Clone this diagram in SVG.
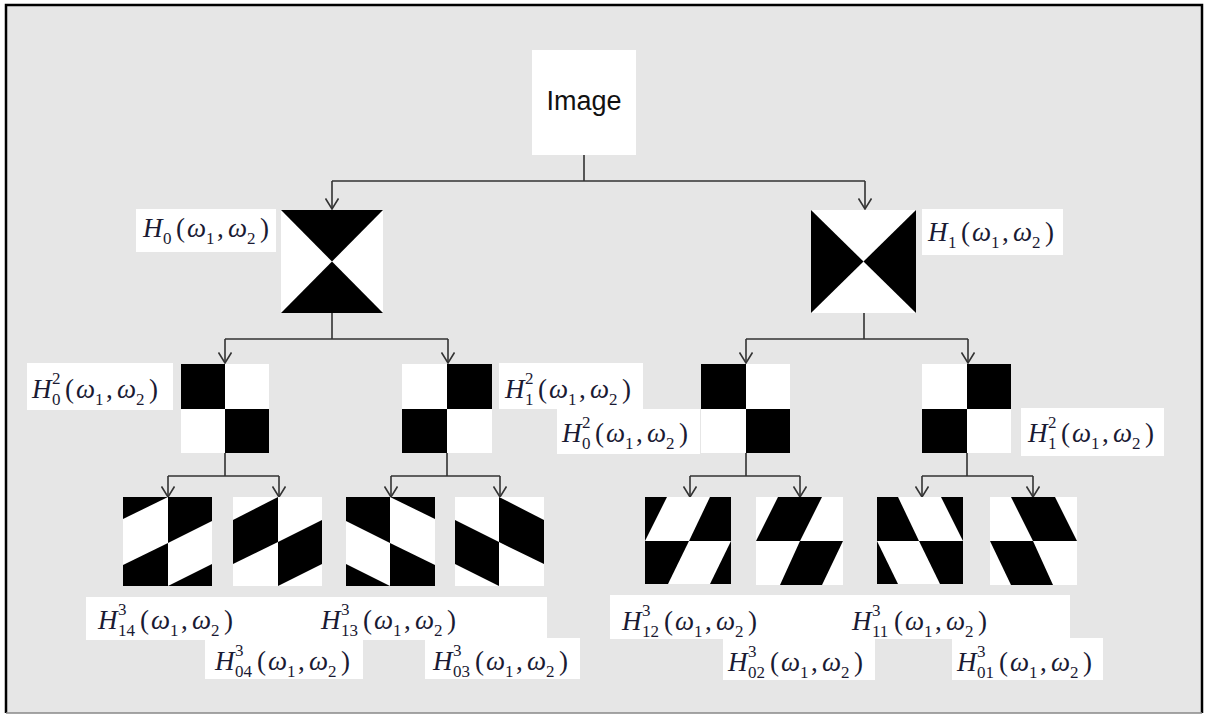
<svg xmlns="http://www.w3.org/2000/svg" width="1207" height="715" viewBox="0 0 1207 715">
<style>
.bg{fill:#e6e6e6}
.w{fill:#ffffff}
.k{fill:#000000}
.c{stroke:#333333;stroke-width:1.6;fill:none}
.m{font-family:"Liberation Serif","Times New Roman",serif;font-size:27px;fill:#1a1a33}
.i{font-style:italic}
.s{font-size:17px}
.t{font-family:"Liberation Sans",Arial,sans-serif;font-size:27px;fill:#111111}
</style>
<defs>
<marker id="ah" viewBox="0 0 12 14" refX="11" refY="7" markerWidth="12" markerHeight="14" markerUnits="userSpaceOnUse" orient="auto">
<path d="M0.5,0.5 L11,7 L0.5,13.5" fill="none" stroke="#333333" stroke-width="1.6"/>
</marker>
</defs>
<rect x="0" y="0" width="1207" height="715" fill="#ffffff"/>
<rect class="bg" x="6" y="5" width="1196" height="708"/>
<path d="M6,713 L6,5 L1202,5 L1202,713" fill="none" stroke="#000000" stroke-width="2.5"/>
<path d="M6,713 L1202,713" fill="none" stroke="#888888" stroke-width="1.5"/>

<g id="connectors">
<path class="c" d="M584,155 L584,181 M332,181 L865,181"/>
<path class="c" d="M332,181 L332,209" marker-end="url(#ah)"/>
<path class="c" d="M865,181 L865,209" marker-end="url(#ah)"/>
<path class="c" d="M332,313 L332,339 M225,339 L448,339"/>
<path class="c" d="M225,339 L225,363" marker-end="url(#ah)"/>
<path class="c" d="M448,339 L448,363" marker-end="url(#ah)"/>
<path class="c" d="M864,313 L864,339 M746,339 L968,339"/>
<path class="c" d="M746,339 L746,363" marker-end="url(#ah)"/>
<path class="c" d="M968,339 L968,363" marker-end="url(#ah)"/>
<path class="c" d="M225,453 L225,476 M168,476 L279,476"/>
<path class="c" d="M168,476 L168,497" marker-end="url(#ah)"/>
<path class="c" d="M279,476 L279,497" marker-end="url(#ah)"/>
<path class="c" d="M447,453 L447,476 M391,476 L500,476"/>
<path class="c" d="M391,476 L391,497" marker-end="url(#ah)"/>
<path class="c" d="M500,476 L500,497" marker-end="url(#ah)"/>
<path class="c" d="M746,453 L746,476 M690,476 L800,476"/>
<path class="c" d="M690,476 L690,497" marker-end="url(#ah)"/>
<path class="c" d="M800,476 L800,497" marker-end="url(#ah)"/>
<path class="c" d="M967,453 L967,476 M922,476 L1033,476"/>
<path class="c" d="M922,476 L922,497" marker-end="url(#ah)"/>
<path class="c" d="M1033,476 L1033,497" marker-end="url(#ah)"/>
</g>

<g id="node-image">
<rect class="w" x="532" y="50" width="104" height="105"/>
<text class="t" x="584" y="110" text-anchor="middle">Image</text>
</g>

<g id="node-h0">
<rect class="w" x="281" y="210" width="102" height="103"/>
<polygon class="k" points="281,210 383,210 332,261.5"/>
<polygon class="k" points="281,313 383,313 332,261.5"/>
<rect class="w" x="136" y="209" width="140" height="43"/>
<g transform="translate(143,237)"><text class="m"><tspan class="i" x="0" y="0">H</tspan><tspan class="s" x="20" y="7">0</tspan><tspan x="33" y="0">(</tspan><tspan class="i" x="44" y="0">ω</tspan><tspan class="s" x="63" y="7">1</tspan><tspan x="74" y="0">,</tspan><tspan class="i" x="85" y="0">ω</tspan><tspan class="s" x="104" y="7">2</tspan><tspan x="117" y="0">)</tspan></text></g>
</g>

<g id="node-h1">
<rect class="w" x="811" y="210" width="105" height="103"/>
<polygon class="k" points="811,210 811,313 863.5,261.5"/>
<polygon class="k" points="916,210 916,313 863.5,261.5"/>
<rect class="w" x="922" y="209" width="141" height="46"/>
<g transform="translate(928,241)"><text class="m"><tspan class="i" x="0" y="0">H</tspan><tspan class="s" x="20" y="7">1</tspan><tspan x="33" y="0">(</tspan><tspan class="i" x="44" y="0">ω</tspan><tspan class="s" x="63" y="7">1</tspan><tspan x="74" y="0">,</tspan><tspan class="i" x="85" y="0">ω</tspan><tspan class="s" x="104" y="7">2</tspan><tspan x="117" y="0">)</tspan></text></g>
</g>

<g id="node-h0-2-left">
<rect class="w" x="181" y="364" width="88" height="89"/>
<rect class="k" x="181" y="364" width="44" height="45"/>
<rect class="k" x="225" y="409" width="44" height="44"/>
<rect class="w" x="27" y="363" width="146" height="47"/>
<g transform="translate(32,398)"><text class="m"><tspan class="i" x="0" y="0">H</tspan><tspan class="s" x="20" y="-14">2</tspan><tspan class="s" x="20" y="7">0</tspan><tspan x="33" y="0">(</tspan><tspan class="i" x="44" y="0">ω</tspan><tspan class="s" x="63" y="7">1</tspan><tspan x="74" y="0">,</tspan><tspan class="i" x="85" y="0">ω</tspan><tspan class="s" x="104" y="7">2</tspan><tspan x="117" y="0">)</tspan></text></g>
</g>

<g id="node-h1-2-left">
<rect class="w" x="402" y="364" width="90" height="89"/>
<rect class="k" x="447" y="364" width="45" height="45"/>
<rect class="k" x="402" y="409" width="45" height="44"/>
<rect class="w" x="499" y="363" width="144" height="46"/>
<g transform="translate(505,398)"><text class="m"><tspan class="i" x="0" y="0">H</tspan><tspan class="s" x="20" y="-14">2</tspan><tspan class="s" x="20" y="7">1</tspan><tspan x="33" y="0">(</tspan><tspan class="i" x="44" y="0">ω</tspan><tspan class="s" x="63" y="7">1</tspan><tspan x="74" y="0">,</tspan><tspan class="i" x="85" y="0">ω</tspan><tspan class="s" x="104" y="7">2</tspan><tspan x="117" y="0">)</tspan></text></g>
</g>

<g id="node-h0-2-right">
<rect class="w" x="701" y="364" width="89" height="89"/>
<rect class="k" x="701" y="364" width="45" height="45"/>
<rect class="k" x="746" y="409" width="44" height="44"/>
<rect class="w" x="557" y="409" width="143" height="45"/>
<g transform="translate(562,442)"><text class="m"><tspan class="i" x="0" y="0">H</tspan><tspan class="s" x="20" y="-14">2</tspan><tspan class="s" x="20" y="7">0</tspan><tspan x="33" y="0">(</tspan><tspan class="i" x="44" y="0">ω</tspan><tspan class="s" x="63" y="7">1</tspan><tspan x="74" y="0">,</tspan><tspan class="i" x="85" y="0">ω</tspan><tspan class="s" x="104" y="7">2</tspan><tspan x="117" y="0">)</tspan></text></g>
</g>

<g id="node-h1-2-right">
<rect class="w" x="922" y="364" width="89" height="89"/>
<rect class="k" x="967" y="364" width="44" height="45"/>
<rect class="k" x="922" y="409" width="45" height="44"/>
<rect class="w" x="1021" y="408" width="143" height="48"/>
<g transform="translate(1028,442)"><text class="m"><tspan class="i" x="0" y="0">H</tspan><tspan class="s" x="20" y="-14">2</tspan><tspan class="s" x="20" y="7">1</tspan><tspan x="33" y="0">(</tspan><tspan class="i" x="44" y="0">ω</tspan><tspan class="s" x="63" y="7">1</tspan><tspan x="74" y="0">,</tspan><tspan class="i" x="85" y="0">ω</tspan><tspan class="s" x="104" y="7">2</tspan><tspan x="117" y="0">)</tspan></text></g>
</g>

<g id="label-boxes">
<rect class="w" x="86" y="597" width="461" height="43"/>
<rect class="w" x="205" y="640" width="158" height="39"/>
<rect class="w" x="425" y="638" width="155" height="41"/>
<rect class="w" x="610" y="595" width="460" height="44"/>
<rect class="w" x="723" y="639" width="152" height="41"/>
<rect class="w" x="952" y="638" width="151" height="42"/>
</g>

<g id="node-h14">
<rect class="w" x="123" y="497" width="89" height="89"/>
<polygon class="k" points="123,497 168,497 123,519"/>
<polygon class="k" points="123,565 168,543 168,586 123,586"/>
<polygon class="k" points="168,497 212,497 212,521 168,543"/>
<polygon class="k" points="168,586 212,564 212,586"/>
<g transform="translate(98,629)"><text class="m"><tspan class="i" x="0" y="0">H</tspan><tspan class="s" x="20" y="-14">3</tspan><tspan class="s" x="20" y="7">14</tspan><tspan x="42" y="0">(</tspan><tspan class="i" x="53" y="0">ω</tspan><tspan class="s" x="72" y="7">1</tspan><tspan x="83" y="0">,</tspan><tspan class="i" x="94" y="0">ω</tspan><tspan class="s" x="113" y="7">2</tspan><tspan x="126" y="0">)</tspan></text></g>
</g>

<g id="node-h04">
<rect class="w" x="233" y="497" width="89" height="89"/>
<polygon class="k" points="233,520 278,497 278,542 233,564"/>
<polygon class="k" points="278,542 322,520 322,564 278,586"/>
<g transform="translate(215,670)"><text class="m"><tspan class="i" x="0" y="0">H</tspan><tspan class="s" x="20" y="-14">3</tspan><tspan class="s" x="20" y="7">04</tspan><tspan x="42" y="0">(</tspan><tspan class="i" x="53" y="0">ω</tspan><tspan class="s" x="72" y="7">1</tspan><tspan x="83" y="0">,</tspan><tspan class="i" x="94" y="0">ω</tspan><tspan class="s" x="113" y="7">2</tspan><tspan x="126" y="0">)</tspan></text></g>
</g>

<g id="node-h13">
<rect class="w" x="346" y="497" width="89" height="89"/>
<polygon class="k" points="390,497 346,497 346,521 390,543"/>
<polygon class="k" points="390,586 346,564 346,586"/>
<polygon class="k" points="435,497 390,497 435,519"/>
<polygon class="k" points="435,565 390,543 390,586 435,586"/>
<g transform="translate(321,629)"><text class="m"><tspan class="i" x="0" y="0">H</tspan><tspan class="s" x="20" y="-14">3</tspan><tspan class="s" x="20" y="7">13</tspan><tspan x="42" y="0">(</tspan><tspan class="i" x="53" y="0">ω</tspan><tspan class="s" x="72" y="7">1</tspan><tspan x="83" y="0">,</tspan><tspan class="i" x="94" y="0">ω</tspan><tspan class="s" x="113" y="7">2</tspan><tspan x="126" y="0">)</tspan></text></g>
</g>

<g id="node-h03">
<rect class="w" x="455" y="497" width="89" height="89"/>
<polygon class="k" points="544,520 499,497 499,542 544,564"/>
<polygon class="k" points="499,542 455,520 455,564 499,586"/>
<g transform="translate(433,670)"><text class="m"><tspan class="i" x="0" y="0">H</tspan><tspan class="s" x="20" y="-14">3</tspan><tspan class="s" x="20" y="7">03</tspan><tspan x="42" y="0">(</tspan><tspan class="i" x="53" y="0">ω</tspan><tspan class="s" x="72" y="7">1</tspan><tspan x="83" y="0">,</tspan><tspan class="i" x="94" y="0">ω</tspan><tspan class="s" x="113" y="7">2</tspan><tspan x="126" y="0">)</tspan></text></g>
</g>

<g id="node-h12">
<rect class="w" x="645" y="497" width="86" height="87"/>
<polygon class="k" points="645,497 667,497 645,541"/>
<polygon class="k" points="710,497 731,497 731,541 689,541"/>
<polygon class="k" points="645,541 689,541 668,584 645,584"/>
<polygon class="k" points="731,541 731,584 710,584"/>
<g transform="translate(622,630)"><text class="m"><tspan class="i" x="0" y="0">H</tspan><tspan class="s" x="20" y="-14">3</tspan><tspan class="s" x="20" y="7">12</tspan><tspan x="42" y="0">(</tspan><tspan class="i" x="53" y="0">ω</tspan><tspan class="s" x="72" y="7">1</tspan><tspan x="83" y="0">,</tspan><tspan class="i" x="94" y="0">ω</tspan><tspan class="s" x="113" y="7">2</tspan><tspan x="126" y="0">)</tspan></text></g>
</g>

<g id="node-h02">
<rect class="w" x="756" y="497" width="87" height="88"/>
<polygon class="k" points="778,497 822,497 800,541 756,541"/>
<polygon class="k" points="800,541 843,541 822,585 780,585"/>
<g transform="translate(728,671)"><text class="m"><tspan class="i" x="0" y="0">H</tspan><tspan class="s" x="20" y="-14">3</tspan><tspan class="s" x="20" y="7">02</tspan><tspan x="42" y="0">(</tspan><tspan class="i" x="53" y="0">ω</tspan><tspan class="s" x="72" y="7">1</tspan><tspan x="83" y="0">,</tspan><tspan class="i" x="94" y="0">ω</tspan><tspan class="s" x="113" y="7">2</tspan><tspan x="126" y="0">)</tspan></text></g>
</g>

<g id="node-h11">
<rect class="w" x="877" y="497" width="86" height="87"/>
<polygon class="k" points="963,497 941,497 963,541"/>
<polygon class="k" points="898,497 877,497 877,541 919,541"/>
<polygon class="k" points="963,541 919,541 940,584 963,584"/>
<polygon class="k" points="877,541 877,584 898,584"/>
<g transform="translate(852,630)"><text class="m"><tspan class="i" x="0" y="0">H</tspan><tspan class="s" x="20" y="-14">3</tspan><tspan class="s" x="20" y="7">11</tspan><tspan x="42" y="0">(</tspan><tspan class="i" x="53" y="0">ω</tspan><tspan class="s" x="72" y="7">1</tspan><tspan x="83" y="0">,</tspan><tspan class="i" x="94" y="0">ω</tspan><tspan class="s" x="113" y="7">2</tspan><tspan x="126" y="0">)</tspan></text></g>
</g>

<g id="node-h01">
<rect class="w" x="990" y="497" width="87" height="88"/>
<polygon class="k" points="1055,497 1011,497 1033,541 1077,541"/>
<polygon class="k" points="1033,541 990,541 1011,585 1053,585"/>
<g transform="translate(957,671)"><text class="m"><tspan class="i" x="0" y="0">H</tspan><tspan class="s" x="20" y="-14">3</tspan><tspan class="s" x="20" y="7">01</tspan><tspan x="42" y="0">(</tspan><tspan class="i" x="53" y="0">ω</tspan><tspan class="s" x="72" y="7">1</tspan><tspan x="83" y="0">,</tspan><tspan class="i" x="94" y="0">ω</tspan><tspan class="s" x="113" y="7">2</tspan><tspan x="126" y="0">)</tspan></text></g>
</g>
</svg>
